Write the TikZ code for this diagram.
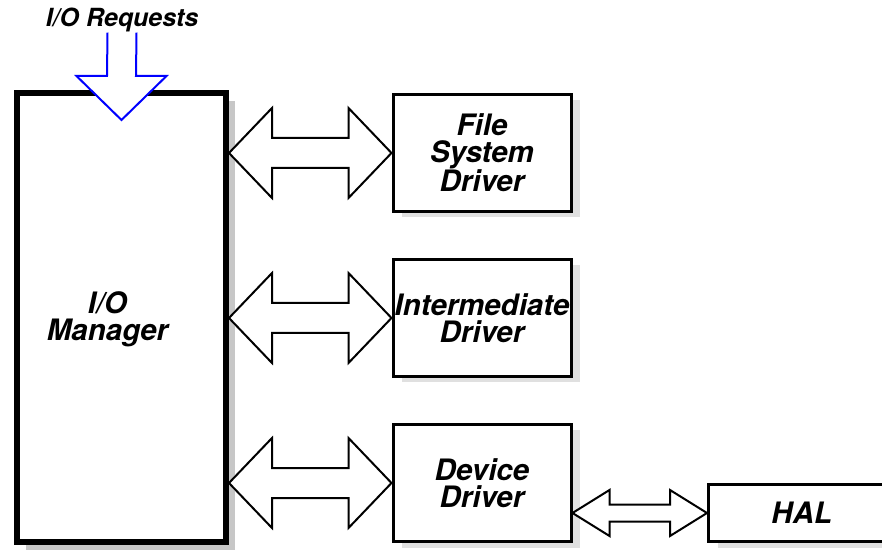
\documentclass[tikz,border=0pt]{standalone}
\usepackage{fontspec}
\setmainfont{TeX Gyre Heros}
\usetikzlibrary{calc,shadows}

\tikzset{
  boxfont/.style={font=\fontsize{29.5}{27}\selectfont\bfseries\itshape},
  drvbox/.style={draw, line width=3pt, fill=white, boxfont, align=center, inner sep=0pt,
    minimum width=178pt, minimum height=117pt,
    drop shadow={shadow xshift=9pt, shadow yshift=-6pt, fill=black!12, opacity=1}},
  mgrbox/.style={draw, line width=6pt, fill=white, minimum width=209pt, minimum height=449pt,
    drop shadow={shadow xshift=9pt, shadow yshift=-8pt, fill=black!22, opacity=1}},
  fatarrow/.style={draw, line width=2pt, fill=white},
  reqarrow/.style={draw=blue, line width=2pt, fill=white},
}

% from, to, head length, head half height, shaft half height
\newcommand{\twowayarrow}[5]{%
  \draw[fatarrow] (#1) -- ++(#3,#4) -- ++(0,{#5-#4}) -- ($(#2)+(-#3,#5)$) -- ++(0,{#4-#5})
    -- (#2) -- ++(-#3,-#4) -- ++(0,{#4-#5}) -- ($(#1)+(#3,-#5)$) -- ++(0,{#5-#4}) -- cycle;}

\begin{document}
\begin{tikzpicture}[x=1pt,y=1pt]
        \useasboundingbox (0,0) rectangle (882,551);

        \node[mgrbox] (mgr) at (121.5,233.5) {};
        \node[boxfont, align=center, inner sep=0pt] (mgrtxt) at ([xshift=-14pt,yshift=-2pt]mgr.center) {I/O\\Manager};

        \node[drvbox] (fsd) at (482,398) {File\\System\\Driver};
        \node[drvbox] (imd) at (482,233) {Intermediate\\Driver};
        \node[drvbox] (dev) at (482,68) {Device\\Driver};
        \node[drvbox, minimum width=186.5pt, minimum height=57pt] (hal) at (801.75,38) {HAL};

        % requests coming in from the top
        \node[font=\fontsize{25}{25}\selectfont\bfseries\itshape, inner sep=0pt, anchor=base] (req) at (122,524) {I/O Requests};
        \coordinate (reqtip) at ([yshift=-30pt]mgr.north);
        \draw[reqarrow] ($(req.south)+(-14.5,0)$) -- ($(reqtip)+(-14.5,44)$) -- ++(-30.5,0) -- (reqtip)
          -- ++(45,44) -- ++(-30.5,0) -- ($(req.south)+(14.5,0)$);

        % manager <-> drivers
        \coordinate (fsdL) at (mgr.east |- fsd.west);
        \coordinate (imdL) at (mgr.east |- imd.west);
        \coordinate (devL) at (mgr.east |- dev.west);
        \coordinate (halL) at (dev.east |- hal.west);
        \twowayarrow{fsdL}{fsd.west}{43}{45}{15}
        \twowayarrow{imdL}{imd.west}{43}{45}{15}
        \twowayarrow{devL}{dev.west}{43}{45}{15}
        \twowayarrow{halL}{hal.west}{37}{23}{8.5}
\end{tikzpicture}
\end{document}
